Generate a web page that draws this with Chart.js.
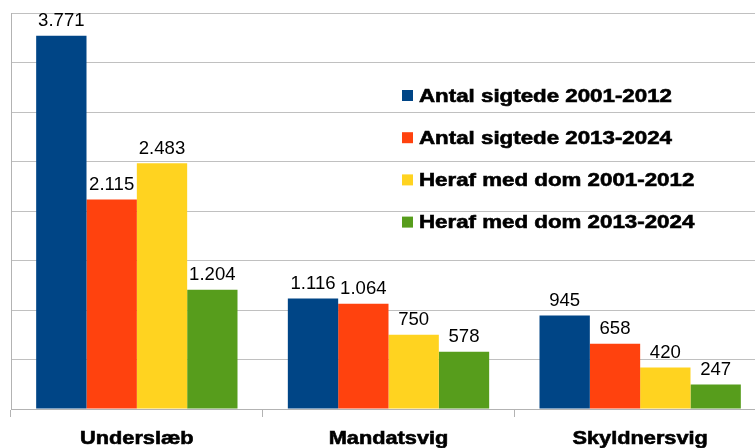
<!DOCTYPE html>
<html>
<head>
<meta charset="utf-8">
<script src="https://cdn.jsdelivr.net/npm/chart.js@4"></script>
<style>
  html, body { margin: 0; padding: 0; background: #fff; overflow: hidden; }
  #wrap { width: 766px; height: 448px; }
</style>
</head>
<body>
<div id="wrap"><canvas id="grafico"></canvas></div>
<script>
const kategorier = ['Underslæb', 'Mandatsvig', 'Skyldnersvig'];

const sigtede2001 = [3771, 1116, 945];
const sigtede2013 = [2115, 1064, 658];
const dom2001 = [2483, 750, 420];
const dom2013 = [1204, 578, 247];

const serieNavne = [
  'Antal sigtede 2001-2012',
  'Antal sigtede 2013-2024',
  'Heraf med dom 2001-2012',
  'Heraf med dom 2013-2024'
];
const farver = ['#004586', '#ff420e', '#ffd320', '#579d1c'];

const serier = [sigtede2001, sigtede2013, dom2001, dom2013];

function formaterTal(v) {
  return String(v).replace(/\B(?=(\d{3})+(?!\d))/g, '.');
}

// tekst lidt strakt i bredden, som i originalen
function strakTekst(ctx, tekst, x, y, sx, streg) {
  ctx.save();
  ctx.translate(x, y);
  ctx.scale(sx, 1);
  ctx.fillText(tekst, 0, 0);
  if (streg) {
    ctx.lineWidth = streg;
    ctx.strokeStyle = '#000';
    ctx.strokeText(tekst, 0, 0);
  }
  ctx.restore();
}

// værdier over søjlerne
const etiketPlugin = {
  id: 'etiketter',
  afterDatasetsDraw(chart) {
    const ctx = chart.ctx;
    ctx.save();
    ctx.font = '17.7px "Liberation Sans"';
    ctx.fillStyle = '#000';
    ctx.textAlign = 'center';
    ctx.textBaseline = 'alphabetic';
    chart.data.datasets.forEach((ds, i) => {
      const meta = chart.getDatasetMeta(i);
      meta.data.forEach((bar, j) => {
        strakTekst(ctx, formaterTal(ds.data[j]), bar.x, bar.y - 9.5, 1.05);
      });
    });
    ctx.restore();
  }
};

// kategorinavne under x-aksen
const kategoriPlugin = {
  id: 'kategorier',
  afterDraw(chart) {
    const ctx = chart.ctx;
    const x = chart.scales.x;
    ctx.save();
    ctx.font = 'bold 18.6px "Liberation Sans"';
    ctx.fillStyle = '#000';
    ctx.textAlign = 'center';
    ctx.textBaseline = 'alphabetic';
    chart.data.labels.forEach((lbl, i) => {
      strakTekst(ctx, lbl, x.getPixelForValue(i), 444, 1.17, 0.6);
    });
    ctx.restore();
  }
};

// forklaring inde i plotområdet
const forklaringPlugin = {
  id: 'forklaring',
  afterDraw(chart) {
    const ctx = chart.ctx;
    ctx.save();
    ctx.font = 'bold 18.6px "Liberation Sans"';
    ctx.textBaseline = 'alphabetic';
    ctx.textAlign = 'left';
    chart.data.datasets.forEach((ds, i) => {
      const y = 101.5 + i * 42.2;
      ctx.fillStyle = ds.backgroundColor;
      ctx.fillRect(402, y - 11.5, 11, 11);
      ctx.fillStyle = '#000';
      strakTekst(ctx, ds.label, 419, y, 1.2, 0.6);
    });
    ctx.restore();
  }
};

const ctx = document.getElementById('grafico').getContext('2d');

new Chart(ctx, {
  type: 'bar',
  data: {
    labels: kategorier,
    datasets: serier.map((data, i) => ({
      label: serieNavne[i],
      data,
      backgroundColor: farver[i],
      borderWidth: 0,
      categoryPercentage: 0.8,
      barPercentage: 1.0
    }))
  },
  options: {
    responsive: true,
    maintainAspectRatio: false,
    animation: false,
    layout: { padding: { left: 11, top: 13, right: 0, bottom: 31 } },
    plugins: {
      legend: { display: false },
      tooltip: { enabled: false }
    },
    scales: {
      x: {
        grid: {
          offset: true,
          drawOnChartArea: false,
          drawTicks: true,
          tickLength: 8,
          color: '#b3b3b3'
        },
        border: { display: true, color: '#b3b3b3' },
        ticks: { display: false }
      },
      y: {
        min: 0,
        max: 4000,
        ticks: { display: false, stepSize: 500 },
        grid: { color: '#c0c0c0', drawTicks: false },
        border: { display: true, color: '#b3b3b3' }
      }
    }
  },
  plugins: [etiketPlugin, kategoriPlugin, forklaringPlugin]
});
</script>
</body>
</html>
